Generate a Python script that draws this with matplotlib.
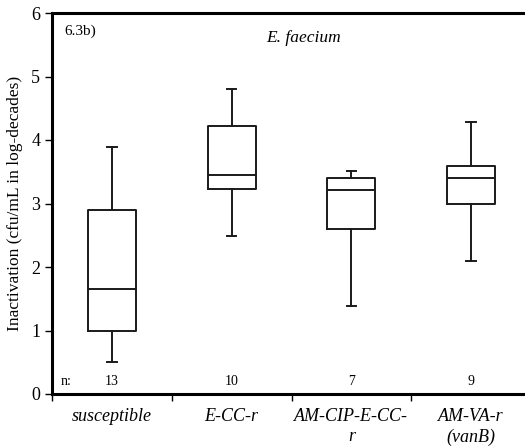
import matplotlib
matplotlib.use('Agg')
import matplotlib.pyplot as plt

plt.rcParams['font.family'] = ['Liberation Serif', 'DejaVu Serif']

# data (log-decades)
groups = ['susceptible', 'E-CC-r', 'AM-CIP-E-CC-\nr', 'AM-VA-r\n(vanB)']
n_counts = [13, 10, 7, 9]
whisk_lo = [0.50, 2.49, 1.39, 2.09]
q1 = [1.00, 3.23, 2.60, 2.99]
median = [1.65, 3.45, 3.21, 3.40]
q3 = [2.90, 4.22, 3.40, 3.59]
whisk_hi = [3.89, 4.80, 3.51, 4.29]

stats = []
for i, g in enumerate(groups):
    stats.append({'label': g, 'whislo': whisk_lo[i], 'q1': q1[i], 'med': median[i],
                  'q3': q3[i], 'whishi': whisk_hi[i]})

fig = plt.figure(figsize=(5.25, 4.46), dpi=100)
ax = fig.add_axes([52 / 525, 52 / 446, 479 / 525, 381 / 446])

pos = [i + 0.5 for i in range(len(groups))]
lw = 1.4
ax.bxp(stats, positions=pos, widths=0.4, showfliers=False,
       boxprops=dict(color='#1a1a1a', linewidth=lw),
       medianprops=dict(color='#1a1a1a', linewidth=lw),
       whiskerprops=dict(color='#1a1a1a', linewidth=lw),
       capprops=dict(color='#1a1a1a', linewidth=lw), capwidths=0.08)

ax.set_xlim(0, len(groups))
ax.set_ylim(0, 6)
ax.set_yticks(range(7))
ax.tick_params(axis='y', labelsize=13, length=5, width=1, direction='out')

ax.set_xticks(range(len(groups) + 1))
ax.set_xticklabels([])
ax.tick_params(axis='x', which='major', length=5, width=1, direction='out')
ax.set_xticks(pos, minor=True)
ax.set_xticklabels(groups, minor=True, style='italic', fontsize=13, linespacing=1.25)
ax.tick_params(axis='x', which='minor', length=0, pad=10)

for s in ['left', 'bottom', 'top']:
    ax.spines[s].set_linewidth(2.2)
ax.spines['right'].set_visible(False)

ax.set_ylabel('Inactivation (cfu/mL in log-decades)', fontsize=12.5, labelpad=6)

ax.text(0.07, 0.19, 'n:', fontsize=10, ha='left', va='center')
for p, n in zip(pos, n_counts):
    ax.text(p, 0.19, str(n), fontsize=10, ha='center', va='center')

ax.text(0.1, 5.72, '6.3b)', fontsize=11, ha='left', va='center')
ax.text(2.1, 5.6, 'E. faecium', fontsize=12.5, style='italic', ha='center', va='center')

fig.savefig('out.png', dpi=100)
